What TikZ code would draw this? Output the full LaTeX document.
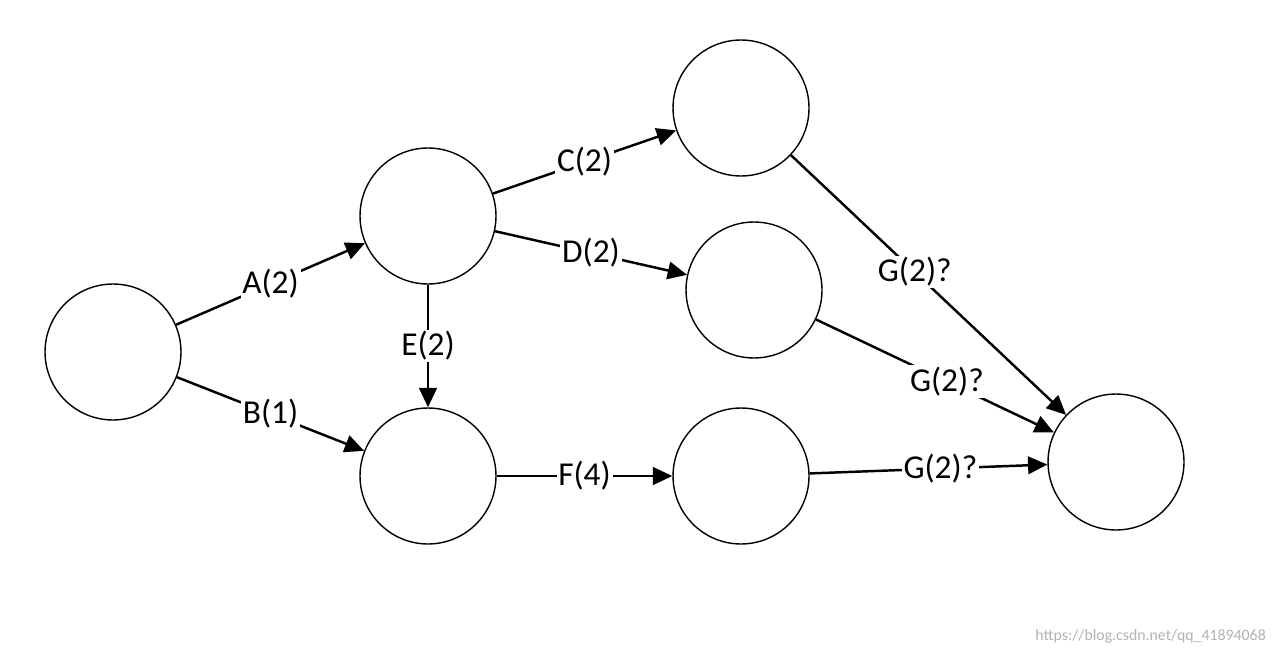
\documentclass[tikz,border=0pt]{standalone}
\usepackage{fontspec}
\setmainfont{Carlito}
\usetikzlibrary{arrows.meta}
\begin{document}
\begin{tikzpicture}[x=0.02cm,y=-0.02cm,
    ev/.style={draw,circle,minimum size=2.72cm,inner sep=0pt,line width=0.8pt},
    act/.style={-{Triangle[length=11pt,width=10pt]},line width=1.4pt},
    lab/.style={fill=white,inner sep=1pt,font=\fontsize{19}{21}\selectfont}]
    \useasboundingbox (0,0) rectangle (1280,652); %Rahmen
    \node[ev] (s)  at (113,352) {};
    \node[ev] (a)  at (428,216) {};
    \node[ev] (c)  at (741,108) {};
    \node[ev] (d)  at (754,290) {};
    \node[ev] (b)  at (428,476) {};
    \node[ev] (f)  at (741,476) {};
    \node[ev] (t)  at (1116,462) {};
    \draw[act] (s) -- node[lab] {A(2)} (a);
    \draw[act] (s) -- node[lab] {B(1)} (b);
    \draw[act] (a) -- node[lab] {C(2)} (c);
    \draw[act] (a) -- node[lab] {D(2)} (d);
    \draw[act] (a) -- node[lab] {E(2)} (b);
    \draw[act] (b) -- node[lab] {F(4)} (f);
    \draw[act] (c) -- node[lab,pos=0.45] {G(2)?} (t);
    \draw[act] (d) -- node[lab,pos=0.55] {G(2)?} (t);
    \draw[act] (f) -- node[lab,pos=0.55] {G(2)?} (t);
    \node[text=gray!60,font=\small,anchor=east] (wm) at (1272,636) {https://blog.csdn.net/qq\_41894068}; %Wasserzeichen
\end{tikzpicture}
\end{document}
